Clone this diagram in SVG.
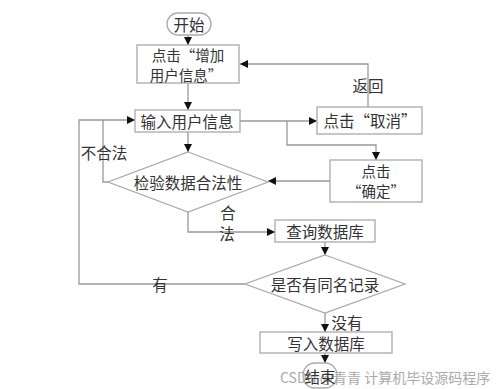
<svg xmlns="http://www.w3.org/2000/svg" width="500" height="389" viewBox="0 0 500 389">
<style>
.shape{fill:#fff;stroke:#aaa;stroke-width:1.3}
.line{fill:none;stroke:#999;stroke-width:1.3}
.arr{marker-end:url(#ah)}
text{font-family:"Noto Sans CJK SC","Noto Sans",sans-serif;font-size:15.5px;fill:#333;text-anchor:middle;dominant-baseline:central}
.wm{fill:#aaa;font-size:14px;text-anchor:start}
.two{font-size:14.5px}
</style>
<defs>
<marker id="ah" viewBox="0 0 10 10" refX="10" refY="5" markerWidth="8" markerHeight="8" markerUnits="userSpaceOnUse" orient="auto">
<path d="M0,0 L10,5 L0,10 z" fill="#111"/>
</marker>
</defs>
<rect width="500" height="389" fill="#fff"/>
<g id="connectors">
<path class="line arr" d="M188,35 V45"/>
<path class="line arr" d="M188,83 V110"/>
<path class="line arr" d="M368,107 V64 H240"/>
<path class="line arr" d="M240,121 H317"/>
<path class="line arr" d="M287,121 V145 H376 V160"/>
<path class="line arr" d="M330,181 H268"/>
<path class="line arr" d="M188,132 V152"/>
<path class="line" d="M108,182 H103 V120"/>
<path class="line arr" d="M245,284 H79 V120 H135"/>
<path class="line arr" d="M188,212 V232 H275"/>
<path class="line arr" d="M325,242 V255"/>
<path class="line arr" d="M325,313 V332"/>
<path class="line arr" d="M325,353 V363"/>
</g>
<g id="labels">
<text x="368" y="85">返回</text>
<text x="104" y="152">不合法</text>
<text x="228" y="212">合</text>
<text x="227" y="233">法</text>
<text x="160" y="284">有</text>
<text x="347" y="322">没有</text>
</g>
<text class="wm" x="280" y="377">CSDN @青青  计算机毕设源码程序</text>
<g id="start">
<rect class="shape" x="167" y="13" width="44" height="22" rx="11"/>
<text x="189" y="24">开始</text>
</g>
<g id="addUser">
<rect class="shape" x="137" y="45" width="102" height="38"/>
<text class="two" x="188" y="54.5">点击“增加</text>
<text class="two" x="186" y="74">用户信息”</text>
</g>
<g id="inputInfo">
<rect class="shape" x="135" y="110" width="105" height="22"/>
<text x="187" y="121">输入用户信息</text>
</g>
<g id="cancel">
<rect class="shape" x="317" y="107" width="105" height="27"/>
<text x="370" y="120">点击“取消”</text>
</g>
<g id="confirm">
<rect class="shape" x="330" y="160" width="92" height="42"/>
<text class="two" x="376" y="170">点击</text>
<text class="two" x="376" y="190.5">“确定”</text>
</g>
<g id="validate">
<polygon class="shape" points="188,152 268,182 188,212 108,182"/>
<text x="188" y="182">检验数据合法性</text>
</g>
<g id="query">
<rect class="shape" x="275" y="220" width="100" height="22"/>
<text x="325" y="231">查询数据库</text>
</g>
<g id="duplicate">
<polygon class="shape" points="325,255 405,284 325,313 245,284"/>
<text x="325" y="284">是否有同名记录</text>
</g>
<g id="write">
<rect class="shape" x="260" y="332" width="132" height="21"/>
<text x="326" y="343">写入数据库</text>
</g>
<g id="end">
<rect class="shape" x="303" y="363" width="34" height="25" rx="12" fill-opacity="0"/>
<text x="320" y="376">结束</text>
</g>
</svg>
